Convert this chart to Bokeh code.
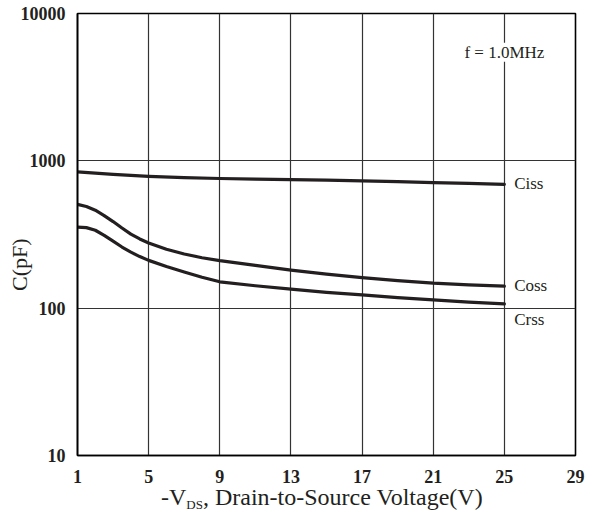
from bokeh.plotting import figure
from bokeh.models import FixedTicker, Label, Range1d, Div
from bokeh.layouts import column
from bokeh.embed import file_html
from bokeh.resources import INLINE

# ---- data ----
ciss_v = [1, 3, 5, 7, 9, 11, 13, 15, 17, 19, 21, 23, 25]
ciss_c = [841, 810, 785, 770, 759, 752, 745, 739, 732, 722, 711, 702, 693]

coss_v = [1, 1.5, 2, 2.5, 3, 3.5, 4, 4.5, 5, 6, 7, 8, 9, 11, 13, 15, 17, 19, 21, 23, 25]
coss_c = [506, 490, 462, 425, 387, 350, 318, 295, 277, 251, 233, 220, 210, 195, 181, 170, 161, 154, 148, 144, 141]

crss_v = [1, 1.5, 2, 2.5, 3, 3.5, 4, 4.5, 5, 6, 7, 8, 9, 11, 13, 15, 17, 19, 21, 23, 25]
crss_c = [355, 352, 338, 312, 285, 260, 240, 224, 211, 192, 176, 162, 151, 142, 134.5, 128, 123, 118, 114, 110, 107]

x_ticks = [1, 5, 9, 13, 17, 21, 25, 29]
y_ticks = [10, 100, 1000, 10000]

SERIF = "Liberation Serif"
INK = "#231f20"

p = figure(width=590, height=485, output_backend="svg", toolbar_location=None,
           y_axis_type="log", x_range=Range1d(1, 29), y_range=Range1d(10, 10000),
           min_border_left=77, min_border_right=15, min_border_top=13, min_border_bottom=30)
p.title.visible = False

p.outline_line_color = "black"
p.outline_line_width = 1.6
p.background_fill_color = "white"
p.border_fill_color = "white"

for ax in (p.xaxis[0], p.yaxis[0]):
    ax.major_tick_line_color = None
    ax.minor_tick_line_color = None
    ax.axis_line_color = "black"
    ax.axis_line_width = 1.6
    ax.major_label_text_font = SERIF
    ax.major_label_text_font_style = "bold"
    ax.major_label_text_font_size = "18px"
    ax.major_label_text_color = INK

p.xaxis.ticker = FixedTicker(ticks=x_ticks)
p.yaxis.ticker = FixedTicker(ticks=y_ticks)
p.yaxis.major_label_overrides = {10: "10", 100: "100", 1000: "1000", 10000: "10000"}
p.xaxis.major_label_standoff = 8
p.yaxis.major_label_standoff = 6

# y-axis title drawn by the axis, pulled in over the tick-label column
p.yaxis.axis_label = "C(pF)" + "\u00a0" * 11
p.yaxis.axis_label_text_font = SERIF
p.yaxis.axis_label_text_font_style = "normal"
p.yaxis.axis_label_text_font_size = "22px"
p.yaxis.axis_label_text_color = INK
p.yaxis.axis_label_standoff = -14

p.xgrid.grid_line_color = "#333333"
p.xgrid.grid_line_width = 1.2
p.ygrid.grid_line_color = "#333333"
p.ygrid.grid_line_width = 1.2
p.ygrid.ticker = FixedTicker(ticks=[100, 1000])
p.xgrid.ticker = FixedTicker(ticks=x_ticks[1:-1])

for xs, ys in ((ciss_v, ciss_c), (coss_v, coss_c), (crss_v, crss_c)):
    p.line(xs, ys, line_color=INK, line_width=3.2, line_join="round", line_cap="round")

def lab(x, y, text, size, align="left", baseline="middle", bg=None):
    l = Label(x=x, y=y, text=text, text_font=SERIF, text_font_size=size,
              text_align=align, text_baseline=baseline, text_color=INK)
    if bg:
        l.background_fill_color = bg
    p.add_layout(l)

# series labels
lab(25.55, 700, "Ciss", "17px")
lab(25.55, 143, "Coss", "17px")
lab(25.55, 84, "Crss", "17px")
# frequency note with white box covering the grid
lab(25.0, 5460, "f = 1.0MHz", "17px", align="center", bg="white")

# x-axis title with subscript, as HTML under the plot
x_title = Div(
    text='-V<sub style="font-size:13px;vertical-align:-4px">DS</sub>, Drain-to-Source Voltage(V)',
    width=590, height=33, margin=(0, 0, 0, 0),
    styles={"font-family": "'Liberation Serif'", "font-size": "24px", "color": INK,
            "line-height": "25px", "padding-left": "161px", "white-space": "nowrap"},
)

layout = column(p, x_title, spacing=0)
open("out.html", "w").write(file_html(layout, INLINE))
